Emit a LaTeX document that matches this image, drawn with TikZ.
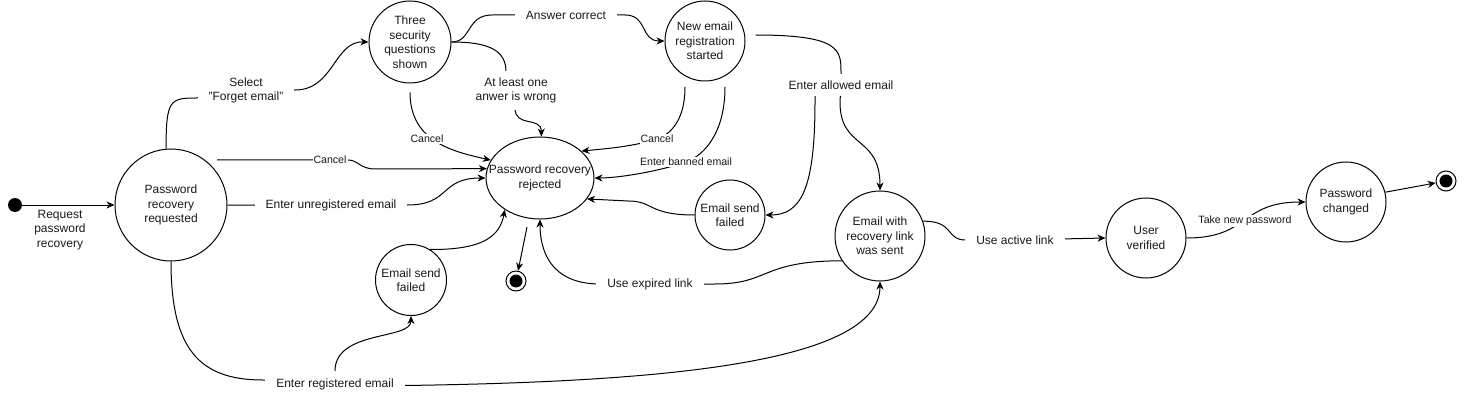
\documentclass[tikz,border=0pt]{standalone}
\usepackage{fontspec}
\setmainfont{Liberation Sans}
\usetikzlibrary{arrows.meta,shapes.geometric,calc,backgrounds}
\begin{document}
\begin{tikzpicture}[x=1pt,y=-1pt,
  st/.style={circle, draw, line width=1pt, fill=white, inner sep=0pt, minimum size=#1},
  stx/.style={align=center, font=\fontsize{12}{14.5}\selectfont, text=black!90, inner sep=0pt},
  lbl/.style={fill=white, align=center, font=\fontsize{12}{14.5}\selectfont, text=black!90, inner xsep=11pt, inner ysep=7pt},
  slbl/.style={fill=white, font=\fontsize{10.6}{12}\selectfont, text=black!90, inner sep=1pt},
  ln/.style={line width=1pt},
  tr/.style={line width=1pt, -{Stealth[length=8pt,width=7pt,inset=2.5pt]}},
  finst/.style={circle, draw, line width=1pt, fill=white, minimum size=20pt, inner sep=0pt,
    path picture={\fill[black] (path picture bounding box.center) circle (6.5pt);}}
]
\useasboundingbox (0,0) rectangle (1468,401);

% states
\node[circle, fill=black, minimum size=14pt, inner sep=0pt] (init) at (15,205) {};
\node[st=112pt, label={[stx]center:Password\\recovery\\requested}] (prr) at (171,205) {};
\node[st=82pt, label={[stx]center:Three\\security\\questions\\shown}] (tsq) at (410,42) {};
\node[st=80pt, label={[stx]center:New email\\registration\\started}] (ner) at (705,41) {};
\node[ellipse, draw, line width=1pt, fill=white, inner sep=0pt, minimum width=108pt, minimum height=82pt,
  label={[stx]center:Password recovery\\rejected}] (rej) at (540,178) {};
\node[finst] (f1) at (516,281) {};
\node[st=71pt, label={[stx]center:Email send\\failed}] (esf1) at (411,280) {};
\node[st=70pt, label={[stx]center:Email send\\failed}] (esf2) at (730,215) {};
\node[st=90pt, label={[stx]center:Email with\\recovery link\\was sent}] (ewl) at (880,236) {};
\node[st=80pt, label={[stx]center:User\\verified}] (uv) at (1146,238) {};
\node[st=80pt, label={[stx]center:Password\\changed}] (pc) at (1346,202) {};
\node[finst] (f2) at (1446,181) {};

% labels
\node[stx] (lreq) at (60,230) {Request\\password\\recovery};
\node[lbl] (lsel) at (246,90.5) {Select\\"Forget email"};
\node[slbl] (lc1) at (330,160) {Cancel};
\node[lbl] (lun) at (331,205) {Enter unregistered email};
\node[lbl] (lans) at (566,15) {Answer correct};
\node[lbl] (lwr) at (516,90.5) {At least one\\anwer is wrong};
\node[slbl] (lc2) at (427,139) {Cancel};
\node[slbl] (lc3) at (657,139) {Cancel};
\node[slbl] (lban) at (686,162) {Enter banned email};
\node[lbl] (lal) at (841,85) {Enter allowed email};
\node[lbl] (lexp) at (650,284) {Use expired link};
\node[lbl] (lreg) at (335,384) {Enter registered email};
\node[lbl] (lact) at (1015,240) {Use active link};
\node[slbl] (ltake) at (1245,221) {Take new password};

\begin{pgfonlayer}{background}
\draw[tr] (init) -- (prr.west);
% select forget email
\draw[tr] (prr.95) .. controls (166,100) and (170,98) .. (196,98) -- (lsel.center) -- (295,90)
  .. controls (334,90) and (334,41) .. (tsq.west);
% cancel from prr
\draw[tr] ($(prr.center)+(46,-45)$) -- (lc1.center) -- ($(lc1.center)+(18,0)$)
  .. controls +(10,0) and +(-15,0) .. ($(lc1.center)+(45,9)$) -- (rej.170);
% unregistered
\draw[tr] (prr.east) -- (lun.center) -- (lun.east) .. controls +(43,0) and +(-46,0) .. (rej.west);
% answer correct
\draw[tr] (tsq.east) .. controls (472,42) and (466,15) .. (492,15) -- (lans.center) -- (625,15)
  .. controls (648,15) and (640,41) .. (ner.west);
% at least one wrong
\draw[tr] (tsq.east) .. controls (492,42) and (506,52) .. (506,72) -- (lwr.center) -- (515,108)
  .. controls (515,128) and (541,116) .. (rej.88);
% cancel from tsq
\draw[tr] ($(tsq.south)+(0,9)$) .. controls +(0,50) and (455,152) .. (rej.160);
% cancel from ner
\draw[tr] ($(ner.center)+(-20,46)$) .. controls +(0,35) and +(12,-4) .. (lc3.center)
  .. controls +(-25,8) and +(20,-2) .. (rej.33);
% banned
\draw[tr] ($(ner.center)+(20,46)$) .. controls +(0,45) and +(19,-7) .. (lban.center)
  .. controls +(-26,9) and +(25,0) .. (rej.east);
% allowed
\draw[ln] ($(ner.east)+(10,-6)$) .. controls (840,35) and (841,50) .. (841,72) -- (lal.center);
\draw[tr] (lal.center) -- ($(lal.center)+(-26,0)$) -- ($(lal.center)+(-26,17)$)
  .. controls +(0,88) and +(35,0) .. (esf2.east);
\draw[tr] (lal.center) -- ($(lal.center)+(-1,17)$) .. controls +(0,48) and +(0,-56) .. (ewl.north);
% esf2 -> rej
\draw[tr] (esf2.west) .. controls (648,215) and (654,201) .. (628,201) -- (rej.-24);
% esf1 -> rej
\draw[tr] (esf1.58) .. controls (485,250) and (500,235) .. (rej.-138);
% expired
\draw[tr] (ewl.213) .. controls (760,261) and (770,284) .. (715,284) -- (lexp.center) -- (600,284)
  .. controls (550,284) and (540,250) .. (rej.south);
% rej -> final
\draw[tr] ($(rej.center)+(-13,49)$) -- (f1);
% registered
\draw[ln] (prr.south) .. controls (171,350) and (200,380) .. (263,380) -- (lreg.center);
\draw[tr] (lreg.center) -- (405,385.5) .. controls (650,382) and (880,365) .. (ewl.south);
\draw[tr] (lreg.center) -- ($(lreg.center)+(0,-13)$) .. controls +(0,-41) and +(0,24) .. (esf1.south);
% active link
\draw[tr] (ewl.19) .. controls (955,221) and (945,240) .. (966,240) -- (lact.center) -- (uv.west);
% take new password
\draw[tr] (uv.east) .. controls (1250,238) and (1240,202) .. (pc.west);
% changed -> final
\draw[tr] (pc.14) -- (f2);
\end{pgfonlayer}
\end{tikzpicture}
\end{document}
